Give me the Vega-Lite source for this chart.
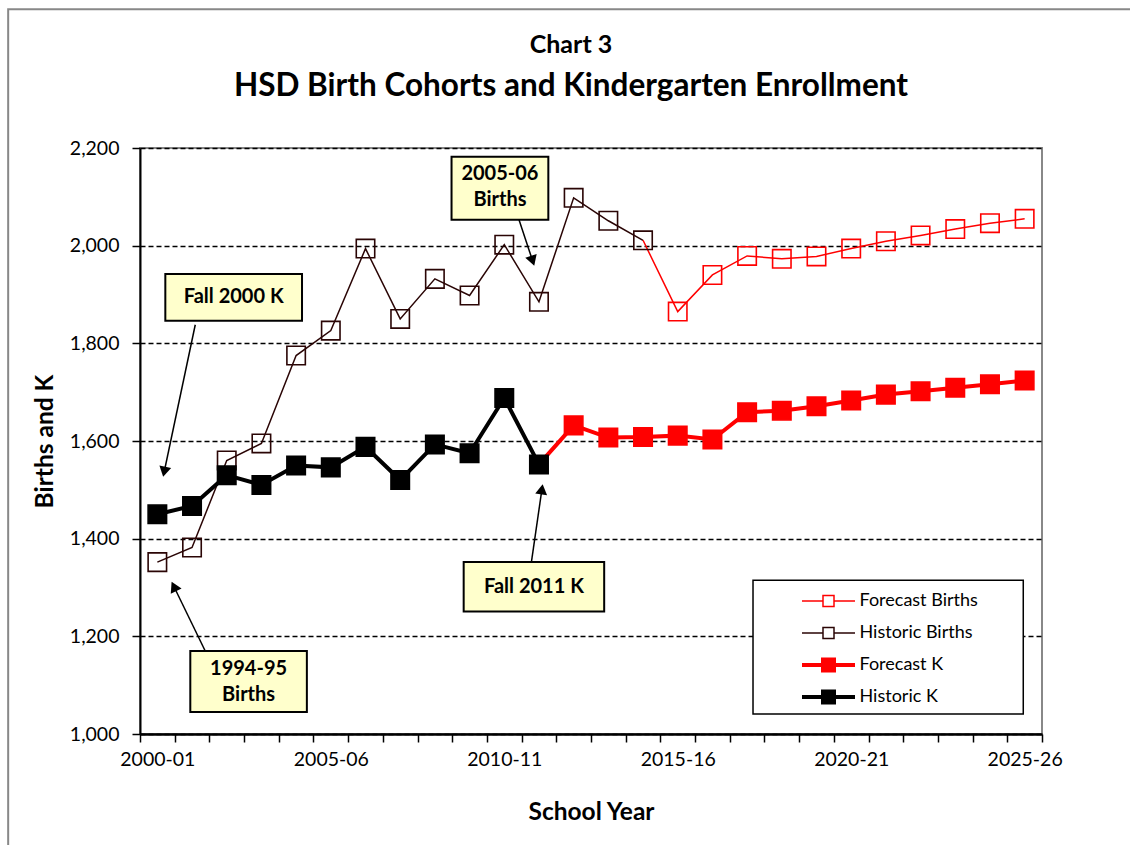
{
  "$schema": "https://vega.github.io/schema/vega-lite/v6.json",
  "width": 902,
  "height": 586,
  "autosize": {"type": "none"},
  "padding": {"left": 140, "top": 148, "right": 88, "bottom": 111},
  "background": "#ffffff",
  "config": {
    "view": {"stroke": "#888888", "strokeWidth": 2},
    "font": "Lato",
    "axis": {"labelOverlap": false}
  },
  "title": {
    "text": "Chart 3",
    "subtitle": "HSD Birth Cohorts and  Kindergarten Enrollment",
    "anchor": "middle",
    "frame": "group",
    "dx": -20,
    "font": "Lato",
    "fontSize": 25,
    "fontWeight": "bold",
    "color": "#000000",
    "subtitleFont": "Lato",
    "subtitleFontSize": 31.5,
    "subtitleFontWeight": "bold",
    "subtitleColor": "#000000",
    "subtitlePadding": 13,
    "offset": -94.5
  },
  "datasets": {
    "series": [
      {"s": "Historic Births", "i": 0, "v": 1352},
      {"s": "Historic Births", "i": 1, "v": 1382},
      {"s": "Historic Births", "i": 2, "v": 1560},
      {"s": "Historic Births", "i": 3, "v": 1595},
      {"s": "Historic Births", "i": 4, "v": 1775},
      {"s": "Historic Births", "i": 5, "v": 1826},
      {"s": "Historic Births", "i": 6, "v": 1994},
      {"s": "Historic Births", "i": 7, "v": 1850},
      {"s": "Historic Births", "i": 8, "v": 1932},
      {"s": "Historic Births", "i": 9, "v": 1898},
      {"s": "Historic Births", "i": 10, "v": 2002},
      {"s": "Historic Births", "i": 11, "v": 1885},
      {"s": "Historic Births", "i": 12, "v": 2098},
      {"s": "Historic Births", "i": 13, "v": 2051},
      {"s": "Historic Births", "i": 14, "v": 2011},
      {"s": "Forecast Births", "i": 14, "v": 2011, "bridge": true},
      {"s": "Forecast Births", "i": 15, "v": 1865},
      {"s": "Forecast Births", "i": 16, "v": 1940},
      {"s": "Forecast Births", "i": 17, "v": 1979},
      {"s": "Forecast Births", "i": 18, "v": 1973},
      {"s": "Forecast Births", "i": 19, "v": 1978},
      {"s": "Forecast Births", "i": 20, "v": 1994},
      {"s": "Forecast Births", "i": 21, "v": 2009},
      {"s": "Forecast Births", "i": 22, "v": 2021},
      {"s": "Forecast Births", "i": 23, "v": 2034},
      {"s": "Forecast Births", "i": 24, "v": 2046},
      {"s": "Forecast Births", "i": 25, "v": 2055},
      {"s": "Historic K", "i": 0, "v": 1450},
      {"s": "Historic K", "i": 1, "v": 1467},
      {"s": "Historic K", "i": 2, "v": 1530},
      {"s": "Historic K", "i": 3, "v": 1510},
      {"s": "Historic K", "i": 4, "v": 1550},
      {"s": "Historic K", "i": 5, "v": 1546},
      {"s": "Historic K", "i": 6, "v": 1588},
      {"s": "Historic K", "i": 7, "v": 1520},
      {"s": "Historic K", "i": 8, "v": 1593},
      {"s": "Historic K", "i": 9, "v": 1575},
      {"s": "Historic K", "i": 10, "v": 1688},
      {"s": "Historic K", "i": 11, "v": 1552},
      {"s": "Forecast K", "i": 11, "v": 1552, "bridge": true},
      {"s": "Forecast K", "i": 12, "v": 1632},
      {"s": "Forecast K", "i": 13, "v": 1607},
      {"s": "Forecast K", "i": 14, "v": 1608},
      {"s": "Forecast K", "i": 15, "v": 1611},
      {"s": "Forecast K", "i": 16, "v": 1603},
      {"s": "Forecast K", "i": 17, "v": 1659},
      {"s": "Forecast K", "i": 18, "v": 1662},
      {"s": "Forecast K", "i": 19, "v": 1671},
      {"s": "Forecast K", "i": 20, "v": 1683},
      {"s": "Forecast K", "i": 21, "v": 1695},
      {"s": "Forecast K", "i": 22, "v": 1702},
      {"s": "Forecast K", "i": 23, "v": 1709},
      {"s": "Forecast K", "i": 24, "v": 1716},
      {"s": "Forecast K", "i": 25, "v": 1724}
    ],
    "notes": [
      {"t": "Fall 2000 K", "x1": 0.23, "x2": 4.17, "y1": 1846, "y2": 1942, "tx": 2.2, "ty": 1894},
      {"t": "2005-06\nBirths", "x1": 8.48, "x2": 11.27, "y1": 2053, "y2": 2182, "tx": 9.875, "ty": 2147},
      {"t": "Fall 2011 K", "x1": 8.83, "x2": 12.88, "y1": 1251, "y2": 1352, "tx": 10.855, "ty": 1302},
      {"t": "1994-95\nBirths", "x1": 0.95, "x2": 4.31, "y1": 1045, "y2": 1170, "tx": 2.63, "ty": 1133}
    ],
    "arrows": [
      {"x1": 1.093, "y1": 1838, "x2": 0.198, "y2": 1537, "dir": 191.9},
      {"x1": 10.42, "y1": 2054, "x2": 10.817, "y2": 1969, "dir": 161.6},
      {"x1": 10.78, "y1": 1351, "x2": 11.085, "y2": 1501, "dir": 8.3},
      {"x1": 1.38, "y1": 1170, "x2": 0.477, "y2": 1302, "dir": 334}
    ],
    "legendbox": [
      {"x1": 17.17, "x2": 24.96, "y1": 1041, "y2": 1315}
    ],
    "frame": [
      {"x1": -4.3, "x2": 30, "y1": 700, "y2": 2484}
    ]
  },
  "layer": [
    {
      "data": {"name": "series"},
      "mark": {"type": "line", "interpolate": "linear"},
      "encoding": {
        "x": {"field": "i", "type": "quantitative", "scale": {"domain": [-0.5, 25.5], "nice": false, "zero": false},
          "axis": {
            "values": [-0.5, 0.5, 1.5, 2.5, 3.5, 4.5, 5.5, 6.5, 7.5, 8.5, 9.5, 10.5, 11.5, 12.5, 13.5, 14.5, 15.5, 16.5, 17.5, 18.5, 19.5, 20.5, 21.5, 22.5, 23.5, 24.5, 25.5],
            "tickCount": 40,
            "labelExpr": "datum.value == -0.5 ? '2000-01' : datum.value == 4.5 ? '2005-06' : datum.value == 9.5 ? '2010-11' : datum.value == 14.5 ? '2015-16' : datum.value == 19.5 ? '2020-21' : datum.value == 24.5 ? '2025-26' : ''",
            "labelOffset": 17.35,
            "grid": false,
            "tickSize": 8,
            "tickColor": "#000000",
            "tickWidth": 1.5,
            "domainColor": "#000000",
            "domainWidth": 2.5,
            "labelFont": "Lato",
            "labelFontSize": 19.5,
            "labelColor": "#000000",
            "labelPadding": 8,
            "labelOverlap": false,
            "labelBound": false,
            "labelFlush": false,
            "title": "School Year",
            "titleFont": "Lato",
            "titleFontSize": 24.5,
            "titleFontWeight": "bold",
            "titleColor": "#000000",
            "titleX": 451,
            "titleY": 78,
            "titleBaseline": "middle",
            "titleAlign": "center"
          }},
        "y": {"field": "v", "type": "quantitative", "scale": {"domain": [1000, 2200], "nice": false, "zero": false},
          "axis": {
            "values": [1000, 1200, 1400, 1600, 1800, 2000, 2200],
            "tickCount": 20,
            "format": ",d",
            "grid": true,
            "gridColor": "#000000",
            "gridDash": [5, 3],
            "gridWidth": 1.3,
            "domainColor": "#000000",
            "domainWidth": 2,
            "tickColor": "#000000",
            "tickSize": 8,
            "tickWidth": 1.5,
            "labelFont": "Lato",
            "labelFontSize": 19.5,
            "labelColor": "#000000",
            "labelPadding": 13,
            "title": "Births and K",
            "titleFont": "Lato",
            "titleFontSize": 24.5,
            "titleFontWeight": "bold",
            "titleColor": "#000000",
            "titleX": -95,
            "titleY": 293,
            "titleAngle": 270,
            "titleBaseline": "middle",
            "titleAlign": "center"
          }},
        "color": {"field": "s", "type": "nominal",
          "scale": {"domain": ["Forecast Births", "Historic Births", "Forecast K", "Historic K"], "range": ["#ff0000", "#2a0505", "#ff0000", "#000000"]},
          "legend": {
            "orient": "none",
            "legendX": 660,
            "legendY": 443,
            "title": null,
            "padding": 0,
            "symbolType": "M-2.65,0H-0.55M0.55,0H2.65M-0.55,-0.55H0.55V0.55H-0.55Z",
            "symbolSize": 400,
            "symbolOffset": 16.5,
            "clipHeight": 20,
            "labelOffset": 19,
            "labelFont": "Lato",
            "labelFontSize": 18,
            "labelColor": "#000000",
            "rowPadding": 12
          }},
        "strokeWidth": {"field": "s", "type": "nominal",
          "scale": {"type": "ordinal", "domain": ["Forecast Births", "Historic Births", "Forecast K", "Historic K"], "range": [1.5, 1.5, 4, 4]}},
        "order": {"field": "i", "type": "quantitative"}
      }
    },
    {
      "data": {"name": "series"},
      "transform": [{"filter": "datum.bridge != true"}],
      "mark": {"type": "point", "shape": "square", "size": 340, "filled": false, "strokeWidth": 1.6, "opacity": 1},
      "encoding": {
        "x": {"field": "i", "type": "quantitative", "scale": {"domain": [-0.5, 25.5], "nice": false, "zero": false}},
        "y": {"field": "v", "type": "quantitative", "scale": {"domain": [1000, 2200], "nice": false, "zero": false}},
        "color": {"field": "s", "type": "nominal",
          "scale": {"domain": ["Forecast Births", "Historic Births", "Forecast K", "Historic K"], "range": ["#ff0000", "#2a0505", "#ff0000", "#000000"]}},
        "fill": {"field": "s", "type": "nominal",
          "scale": {"domain": ["Forecast Births", "Historic Births", "Forecast K", "Historic K"], "range": ["transparent", "transparent", "#ff0000", "#000000"]}}
      }
    },
    {
      "data": {"name": "arrows"},
      "mark": {"type": "rule", "color": "#000000", "strokeWidth": 1.5},
      "encoding": {
        "x": {"field": "x1", "type": "quantitative", "scale": {"domain": [-0.5, 25.5], "nice": false, "zero": false}},
        "y": {"field": "y1", "type": "quantitative", "scale": {"domain": [1000, 2200], "nice": false, "zero": false}},
        "x2": {"field": "x2"},
        "y2": {"field": "y2"}
      }
    },
    {
      "data": {"name": "arrows"},
      "mark": {"type": "point", "shape": "triangle-up", "size": 144, "filled": true, "color": "#000000", "opacity": 1},
      "encoding": {
        "x": {"field": "x2", "type": "quantitative", "scale": {"domain": [-0.5, 25.5], "nice": false, "zero": false}},
        "y": {"field": "y2", "type": "quantitative", "scale": {"domain": [1000, 2200], "nice": false, "zero": false}},
        "angle": {"field": "dir", "type": "quantitative", "scale": null}
      }
    },
    {
      "data": {"name": "notes"},
      "mark": {"type": "rect", "fill": "#ffffcc", "stroke": "#000000", "strokeWidth": 2},
      "encoding": {
        "x": {"field": "x1", "type": "quantitative", "scale": {"domain": [-0.5, 25.5], "nice": false, "zero": false}},
        "x2": {"field": "x2"},
        "y": {"field": "y1", "type": "quantitative", "scale": {"domain": [1000, 2200], "nice": false, "zero": false}},
        "y2": {"field": "y2"}
      }
    },
    {
      "data": {"name": "notes"},
      "mark": {"type": "text", "font": "Lato", "fontSize": 20, "fontWeight": "bold", "color": "#000000", "lineBreak": "\n", "lineHeight": 26, "align": "center", "baseline": "middle"},
      "encoding": {
        "x": {"field": "tx", "type": "quantitative", "scale": {"domain": [-0.5, 25.5], "nice": false, "zero": false}},
        "y": {"field": "ty", "type": "quantitative", "scale": {"domain": [1000, 2200], "nice": false, "zero": false}},
        "text": {"field": "t"}
      }
    },
    {
      "data": {"name": "legendbox"},
      "mark": {"type": "rect", "fill": "#ffffff", "stroke": "#000000", "strokeWidth": 1.5},
      "encoding": {
        "x": {"field": "x1", "type": "quantitative", "scale": {"domain": [-0.5, 25.5], "nice": false, "zero": false}},
        "x2": {"field": "x2"},
        "y": {"field": "y1", "type": "quantitative", "scale": {"domain": [1000, 2200], "nice": false, "zero": false}},
        "y2": {"field": "y2"}
      }
    },
    {
      "data": {"name": "frame"},
      "mark": {"type": "rect", "fill": null, "fillOpacity": 0, "stroke": "#888888", "strokeWidth": 2, "clip": false},
      "encoding": {
        "x": {"field": "x1", "type": "quantitative", "scale": {"domain": [-0.5, 25.5], "nice": false, "zero": false}},
        "x2": {"field": "x2"},
        "y": {"field": "y1", "type": "quantitative", "scale": {"domain": [1000, 2200], "nice": false, "zero": false}},
        "y2": {"field": "y2"}
      }
    }
  ]
}
